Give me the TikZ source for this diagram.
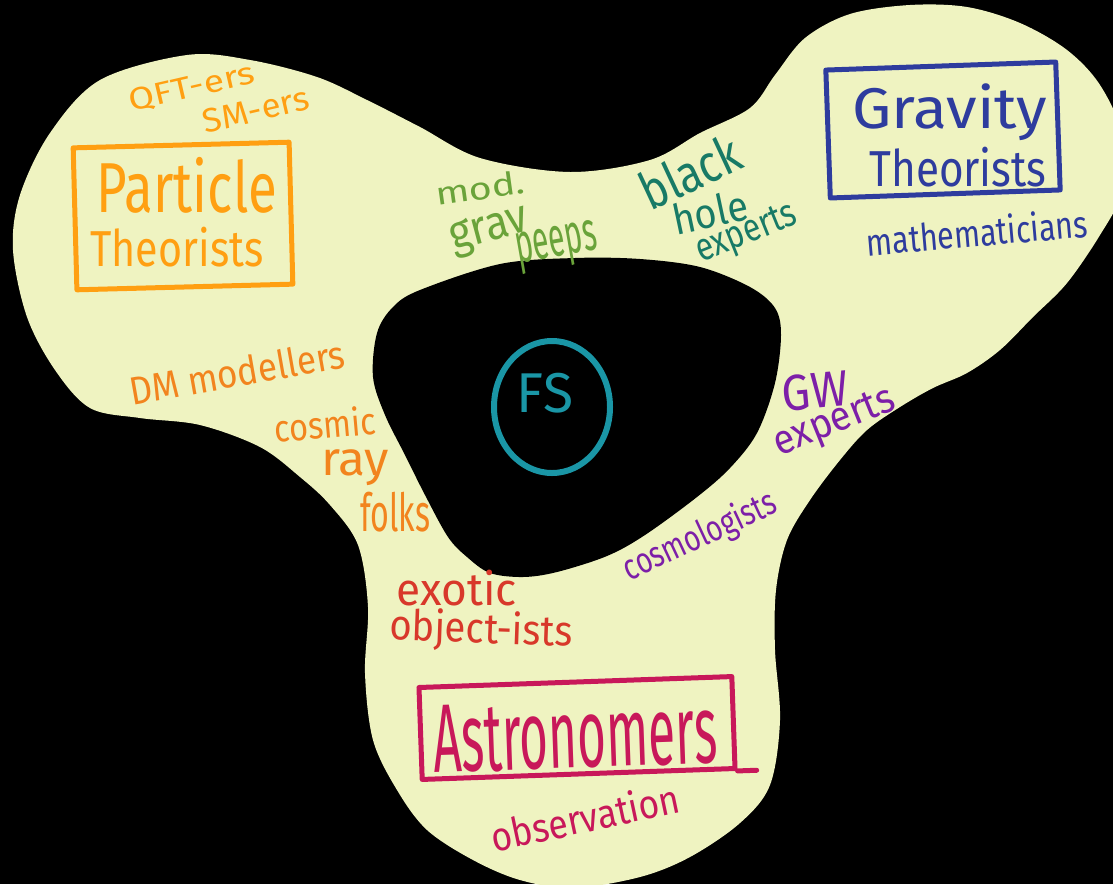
\documentclass[tikz,border=0pt]{standalone}
\usepackage{fontspec}
\setmainfont{Fira Sans}
\usepackage{graphicx}
\usetikzlibrary{shapes.geometric,calc}
\definecolor{blob}{HTML}{EFF3C1}
\definecolor{pOrange}{HTML}{FF9F12}
\definecolor{dOrange}{HTML}{F2841E}
\definecolor{mgGreen}{HTML}{6AA33A}
\definecolor{bhTeal}{HTML}{187A66}
\definecolor{gBlue}{HTML}{2E3C9E}
\definecolor{fsTeal}{HTML}{1A96A6}
\definecolor{gwPurple}{HTML}{7D1FA8}
\definecolor{exRed}{HTML}{D8382A}
\definecolor{astMag}{HTML}{C8185A}
\newcommand{\hw}[3]{\resizebox*{#1pt}{#2pt}{#3}}
\tikzset{
  hand/.style={inner sep=0pt, outer sep=0pt},
  labelbox/.style={draw, line width=5pt, inner sep=0pt, line join=round, line cap=round}
}
\begin{document}
\begin{tikzpicture}[x=1pt,y=-1pt]
\clip (0,0) rectangle (1113,884);
\fill[black] (0,0) rectangle (1113,884);
% outer blob
\fill[blob] plot[smooth cycle, tension=0.55] coordinates {
(187,55) (250,60) (317,77) (367,100) (420,127) (480,158) (570,172) (650,160)
(700,133) (750,108) (775,75) (805,38) (850,14) (910,5) (967,7) (1020,23)
(1067,50) (1100,85) (1122,135) (1120,195) (1100,235) (1067,283) (1033,317)
(1000,350) (967,373) (933,388) (900,407) (867,430) (840,460) (810,500)
(787,540) (776,590) (775,650) (780,720) (770,785) (740,823) (690,857)
(640,877) (573,888) (520,880) (473,860) (427,830) (397,790) (373,740)
(365,673) (368,607) (358,545) (330,505) (300,477) (260,447) (200,425)
(140,418) (90,408) (55,370) (27,317) (13,250) (20,195) (50,133) (100,80)};
% inner hole
\fill[black] plot[smooth cycle, tension=0.55] coordinates {
(575,258) (640,259) (700,267) (750,287) (775,308) (781,335) (775,383)
(757,433) (730,468) (697,497) (645,535) (607,556) (557,572) (523,577)
(490,573) (467,557) (448,537) (425,495) (405,455) (385,415) (373,377)
(377,333) (393,307) (420,290) (500,264)};

% Particle theorists
\node[labelbox, draw=pOrange, minimum width=216pt, minimum height=142pt, rotate=1.5] (ptbox) at (183,216) {};
\node[hand, text=pOrange] (particle) at (187,185) {\hw{180}{56}{Particle}};
\node[hand, text=pOrange] (ptheor) at (177,247) {\hw{173}{40}{Theorists}};
\node[hand, text=pOrange, rotate=13] (qft) at (192,88) {\hw{128}{25}{QFT-ers}};
\node[hand, text=pOrange, rotate=13] (sm) at (256,110) {\hw{108}{24}{SM-ers}};

% Gravity theorists
\node[labelbox, draw=gBlue, minimum width=230pt, minimum height=128pt, rotate=2] (gtbox) at (943,130) {};
\node[hand, text=gBlue] (gravity) at (950,112) {\hw{195}{57}{Gravity}};
\node[hand, text=gBlue] (gtheor) at (958,167) {\hw{177}{40}{Theorists}};
\node[hand, text=gBlue, rotate=5] (math) at (977,232) {\hw{222}{30}{mathematicians}};

% mod grav / black hole
\node[hand, text=mgGreen, rotate=8] (mod) at (480,188) {\hw{90}{24}{mod.}};
\node[hand, text=mgGreen, rotate=15] (grav) at (490,232) {\hw{80}{38}{grav}};
\node[hand, text=mgGreen, rotate=10] (peeps) at (557,247) {\hw{82}{42}{peeps}};
\node[hand, text=bhTeal, rotate=25] (black) at (690,172) {\hw{105}{40}{black}};
\node[hand, text=bhTeal, rotate=12] (hole) at (710,212) {\hw{76}{32}{hole}};
\node[hand, text=bhTeal, rotate=22] (bhexp) at (747,235) {\hw{106}{34}{experts}};

% FS
\node[draw=fsTeal, line width=6pt, ellipse, minimum width=116pt, minimum height=132pt, inner sep=0pt] (fscircle) at (552,407) {};
\node[hand, text=fsTeal] (fs) at (545,393) {\hw{56}{40}{FS}};

% GW / cosmologists
\node[hand, text=gwPurple, rotate=5] (gw) at (815,391) {\hw{66}{36}{GW}};
\node[hand, text=gwPurple, rotate=22] (gwexp) at (835,424) {\hw{128}{36}{experts}};
\node[hand, text=gwPurple, rotate=25] (cosmo) at (700,537) {\hw{165}{36}{cosmologists}};

% DM / cosmic ray
\node[hand, text=dOrange, rotate=10] (dm) at (237,372) {\hw{218}{30}{DM modellers}};
\node[hand, text=dOrange, rotate=5] (cosmic) at (325,424) {\hw{102}{30}{cosmic}};
\node[hand, text=dOrange] (ray) at (355,468) {\hw{68}{36}{ray}};
\node[hand, text=dOrange] (folks) at (395,512) {\hw{70}{40}{folks}};

% exotic
\node[hand, text=exRed] (exotic) at (457,588) {\hw{120}{36}{exotic}};
\node[hand, text=exRed, rotate=-2] (objists) at (481,631) {\hw{183}{42}{object-ists}};

% Astronomers
\node[labelbox, draw=astMag, minimum width=313pt, minimum height=92pt, rotate=2] (astbox) at (577,728) {};
\draw[draw=astMag, line width=5pt, line cap=round] (astbox.south east) -- ($(astbox.south east)!-0.06!(astbox.south west)$);
\node[hand, text=astMag, rotate=2] (astro) at (575,735) {\hw{284}{68}{Astronomers}};
\node[hand, text=astMag, rotate=12] (obs) at (585,817) {\hw{192}{32}{observation}};
\end{tikzpicture}
\end{document}
